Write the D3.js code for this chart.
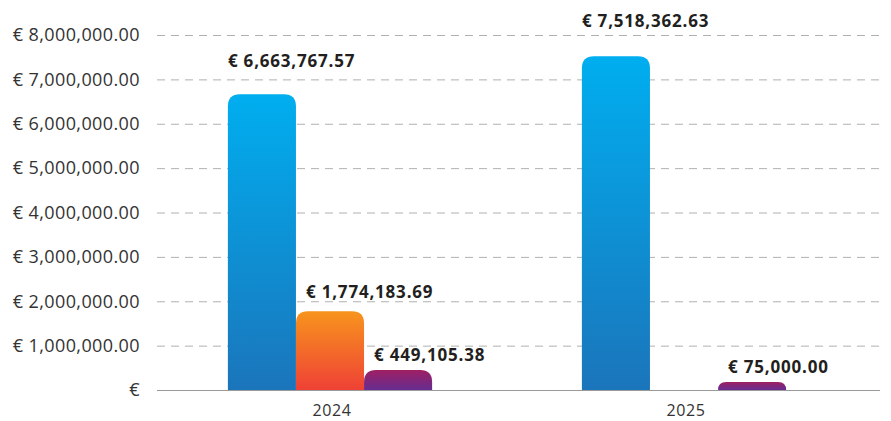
<!DOCTYPE html>
<html>
<head>
<meta charset="utf-8">
<script src="https://cdn.jsdelivr.net/npm/d3@7"></script>
<style>
	body { margin: 0; background: #fff; }
	svg { display: block; font-family: "Open Sans", "Noto Sans", sans-serif; }
</style>
</head>
<body>
<div id="chart"></div>
<script>
//Chart data.
var years       = ['2024', '2025'];
var seriesNames = ['Series 1', 'Series 2', 'Series 3'];
var seriesValues = [
	[6663767.57, 7518362.63],
	[1774183.69, null],
	[449105.38, 75000.00]
];
var yTicks = [0, 1000000, 2000000, 3000000, 4000000, 5000000, 6000000, 7000000, 8000000];

//Gradient colours per series (top, bottom).
var gradients = [
	['#00aeef', '#1b75bb'],
	['#f7941d', '#ef4136'],
	['#9e1f63', '#662d91']
];

var width  = 891;
var height = 421;

var svg = d3.select('#chart').append('svg').attr('width', width).attr('height', height);

var money = d3.format(',.2f');
function euro(d) {
	return d === 0 ? '€' : '€ ' + money(d);
}

var y = d3.scaleLinear().domain([0, 8000000]).range([390, 35]);
var x0 = d3.scaleBand().domain(years).range([153, 861]);
var x1 = d3.scaleBand().domain(seriesNames).range([0, x0.bandwidth()]).paddingOuter(1.1);

//Gradients for the bars
var defs = svg.append('defs');
gradients.forEach(function(g, i) {
	var lg = defs.append('linearGradient').attr('id', 'grad' + i)
		.attr('x1', 0).attr('y1', 0).attr('x2', 0).attr('y2', 1);
	lg.append('stop').attr('offset', '0%').attr('stop-color', g[0]);
	lg.append('stop').attr('offset', '100%').attr('stop-color', g[1]);
});

//Grid lines and y labels
var grid = svg.append('g');
grid.selectAll('line')
	.data(yTicks.filter(function(d) { return d > 0; }))
	.enter().append('line')
	.attr('x1', 157).attr('x2', 880)
	.attr('y1', function(d) { return y(d) + 0.5; })
	.attr('y2', function(d) { return y(d) + 0.5; })
	.attr('stroke', '#b0b0b0')
	.attr('stroke-dasharray', '8,6');

svg.append('line')
	.attr('x1', 157).attr('x2', 880)
	.attr('y1', y(0) + 0.5).attr('y2', y(0) + 0.5)
	.attr('stroke', '#9a9a9a');

svg.append('g').selectAll('text')
	.data(yTicks)
	.enter().append('text')
	.attr('x', 140)
	.attr('y', function(d) { return y(d); })
	.attr('dy', '0.35em')
	.attr('text-anchor', 'end')
	.attr('font-size', 18)
	.attr('letter-spacing', 0.4)
	.attr('fill', '#333')
	.text(euro);

//x labels
svg.append('g').selectAll('text')
	.data(years)
	.enter().append('text')
	.attr('x', function(d) { return x0(d) + x0.bandwidth() / 2 + 2; })
	.attr('y', 416)
	.attr('text-anchor', 'middle')
	.attr('font-size', 16)
	.attr('letter-spacing', 0.6)
	.attr('fill', '#333')
	.text(function(d) { return d; });

//Flatten into bar records
var bars = [];
seriesNames.forEach(function(s, si) {
	years.forEach(function(yr, yi) {
		var v = seriesValues[si][yi];
		if (v !== null) bars.push({series: s, si: si, year: yr, value: v});
	});
});

//Rounded top corners only
function topRounded(x, yTop, w, h, r) {
	r = Math.min(r, h, w / 2);
	return 'M' + x + ',' + (yTop + h) +
		'V' + (yTop + r) +
		'Q' + x + ',' + yTop + ' ' + (x + r) + ',' + yTop +
		'H' + (x + w - r) +
		'Q' + (x + w) + ',' + yTop + ' ' + (x + w) + ',' + (yTop + r) +
		'V' + (yTop + h) + 'Z';
}

function barHeight(d) {
	return Math.max(y(0) - y(d.value), 8);
}

svg.append('g').selectAll('path')
	.data(bars)
	.enter().append('path')
	.attr('d', function(d) {
		var h = barHeight(d);
		return topRounded(x0(d.year) + x1(d.series), y(0) - h, x1.bandwidth(), h, 12);
	})
	.attr('fill', function(d) { return 'url(#grad' + d.si + ')'; });

//Value labels
svg.append('g').selectAll('text')
	.data(bars)
	.enter().append('text')
	.attr('x', function(d) { return x0(d.year) + x1(d.series) + (d.si === 0 ? 0 : 10); })
	.attr('y', function(d) {
		var h = barHeight(d);
		return y(0) - h - (14 + 0.065 * h);
	})
	.attr('dy', '0.35em')
	.attr('font-size', 17)
	.attr('font-weight', 'bold')
	.attr('letter-spacing', 0.8)
	.attr('fill', '#231f20')
	.text(function(d) { return euro(d.value); });
</script>
</body>
</html>
